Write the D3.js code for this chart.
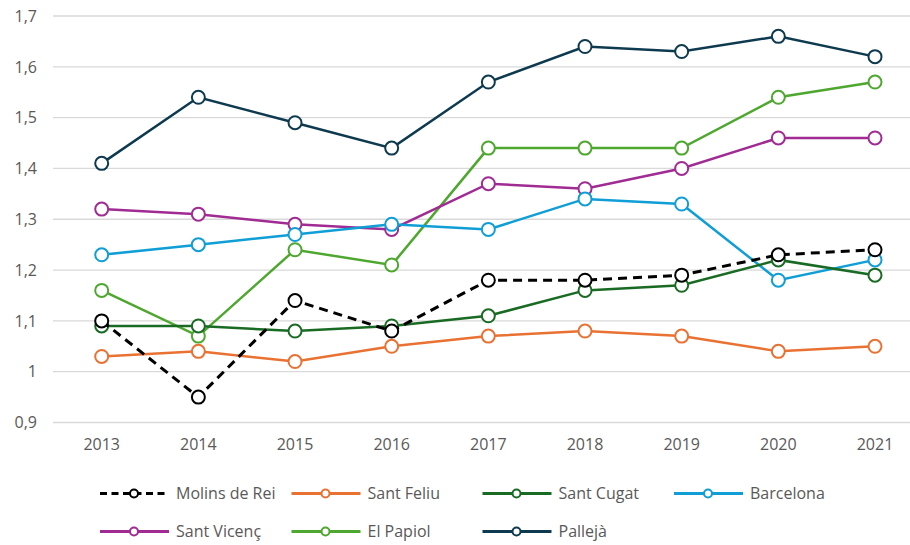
<!DOCTYPE html>
<html>
<head>
<meta charset="utf-8">
<script src="https://cdn.jsdelivr.net/npm/d3@7"></script>
<style>
  body { margin: 0; background: #fff; }
  svg { display: block; font-family: "Open Sans", "Liberation Sans", sans-serif; }
</style>
</head>
<body>
<svg id="chart" width="910" height="545"></svg>
<script>
const years = [2013, 2014, 2015, 2016, 2017, 2018, 2019, 2020, 2021];
const yTicks = [0.9, 1, 1.1, 1.2, 1.3, 1.4, 1.5, 1.6, 1.7];

const molins = [1.10, 0.95, 1.14, 1.08, 1.18, 1.18, 1.19, 1.23, 1.24];
const santFeliu = [1.03, 1.04, 1.02, 1.05, 1.07, 1.08, 1.07, 1.04, 1.05];
const santCugat = [1.09, 1.09, 1.08, 1.09, 1.11, 1.16, 1.17, 1.22, 1.19];
const barcelona = [1.23, 1.25, 1.27, 1.29, 1.28, 1.34, 1.33, 1.18, 1.22];
const santVicenc = [1.32, 1.31, 1.29, 1.28, 1.37, 1.36, 1.40, 1.46, 1.46];
const elPapiol = [1.16, 1.07, 1.24, 1.21, 1.44, 1.44, 1.44, 1.54, 1.57];
const palleja = [1.41, 1.54, 1.49, 1.44, 1.57, 1.64, 1.63, 1.66, 1.62];

const seriesNames = ['Molins de Rei', 'Sant Feliu', 'Sant Cugat', 'Barcelona', 'Sant Vicenç', 'El Papiol', 'Pallejà'];
const seriesValues = [molins, santFeliu, santCugat, barcelona, santVicenc, elPapiol, palleja];
const seriesColors = ['#000000', '#e97132', '#196b24', '#0f9ed5', '#a02b93', '#4ea72e', '#0e3a4f'];
const seriesDash = [true, false, false, false, false, false, false];

const series = seriesNames.map((name, i) => ({
    name, color: seriesColors[i], dashed: seriesDash[i], values: seriesValues[i]
}));

const svg = d3.select('#chart');
const textColor = '#595959';

const x = d3.scalePoint().domain(years).range([101.7, 875]);
const y = d3.scaleLinear().domain([0.9, 1.7]).range([422.5, 16]);
const fmt = d => d3.format('.1f')(d).replace('.', ',').replace(',0', '');

// gridlines
svg.append('g')
    .selectAll('line')
    .data(yTicks)
    .join('line')
    .attr('x1', 53)
    .attr('x2', 910)
    .attr('y1', d => y(d))
    .attr('y2', d => y(d))
    .attr('stroke', '#d9d9d9')
    .attr('stroke-width', 1.3);

// y labels
svg.append('g')
    .selectAll('text')
    .data(yTicks)
    .join('text')
    .attr('x', 37)
    .attr('y', d => y(d))
    .attr('dy', '0.36em')
    .attr('text-anchor', 'end')
    .attr('fill', textColor)
    .style('font-size', '16px')
    .text(fmt);

// x labels
svg.append('g')
    .selectAll('text')
    .data(years)
    .join('text')
    .attr('x', d => x(d))
    .attr('y', 450)
    .attr('text-anchor', 'middle')
    .attr('fill', textColor)
    .style('font-size', '16px')
    .text(d => d);

const line = d3.line()
    .x((d, i) => x(years[i]))
    .y(d => y(d));

// draw in reverse so Molins de Rei sits on top
const drawOrder = series.slice().reverse();

drawOrder.forEach(s => {
    const g = svg.append('g');
    g.append('path')
        .datum(s.values)
        .attr('d', line)
        .attr('fill', 'none')
        .attr('stroke', s.color)
        .attr('stroke-width', s.dashed ? 3 : 2.5)
        .attr('stroke-dasharray', s.dashed ? '9,6' : null);
    g.selectAll('circle')
        .data(s.values)
        .join('circle')
        .attr('cx', (d, i) => x(years[i]))
        .attr('cy', d => y(d))
        .attr('r', 6.5)
        .attr('fill', 'white')
        .attr('stroke', s.color)
        .attr('stroke-width', 2);
});

// legend
const legendPos = [
    [100, 493.5], [291.5, 493.5], [482.5, 493.5], [674, 493.5],
    [100, 531.5], [291.5, 531.5], [482.5, 531.5]
];

series.forEach((s, i) => {
    const [lx, ly] = legendPos[i];
    const g = svg.append('g').attr('transform', `translate(${lx},${ly})`);
    g.append('line')
        .attr('x1', 0).attr('x2', 69)
        .attr('y1', 0).attr('y2', 0)
        .attr('stroke', s.color)
        .attr('stroke-width', 3)
        .attr('stroke-dasharray', s.dashed ? '7,4.5' : null);
    g.append('circle')
        .attr('cx', 34).attr('cy', 0).attr('r', 4)
        .attr('fill', 'white')
        .attr('stroke', s.color)
        .attr('stroke-width', 2);
    g.append('text')
        .attr('x', 76)
        .attr('y', 0)
        .attr('dy', '0.36em')
        .attr('fill', textColor)
        .style('font-size', '16px')
        .text(s.name);
});
</script>
</body>
</html>
